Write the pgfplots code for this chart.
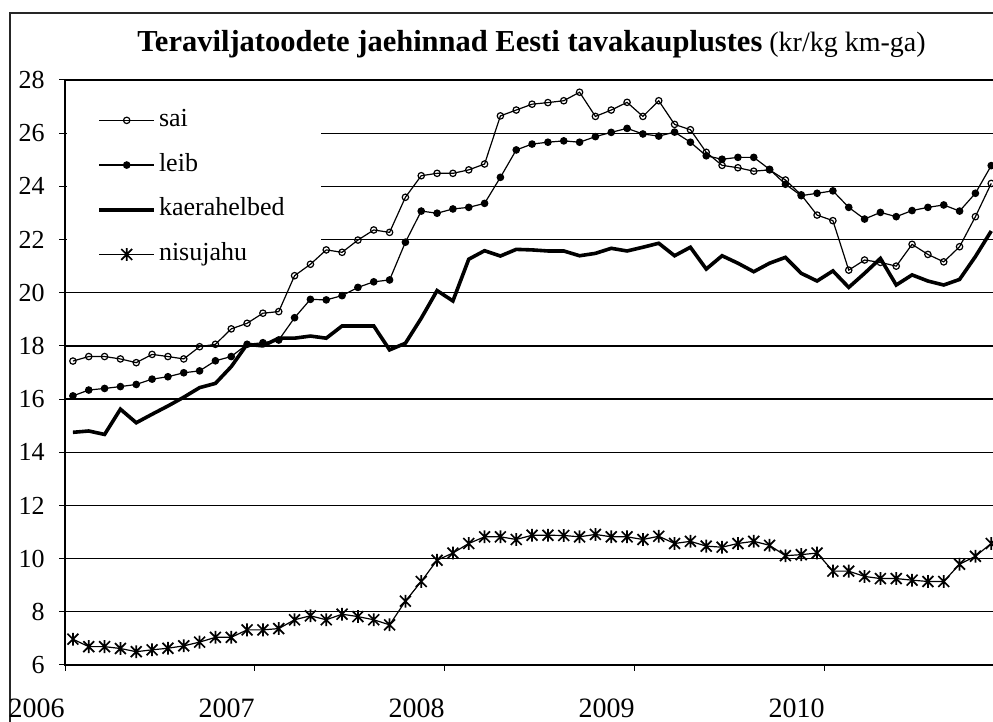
\documentclass[border=0pt]{standalone}
\usepackage{fontspec}
\setmainfont{Liberation Serif}
\usepackage{pgfplots}
\usepackage{pgfplotstable}
\pgfplotsset{compat=1.18}

% Excel-like star: vertical bar and a cross
\pgfdeclareplotmark{estar}{%
  \pgfpathmoveto{\pgfqpoint{0pt}{\pgfplotmarksize}}%
  \pgfpathlineto{\pgfqpoint{0pt}{-\pgfplotmarksize}}%
  \pgfpathmoveto{\pgfqpoint{-.85\pgfplotmarksize}{.85\pgfplotmarksize}}%
  \pgfpathlineto{\pgfqpoint{.85\pgfplotmarksize}{-.85\pgfplotmarksize}}%
  \pgfpathmoveto{\pgfqpoint{-.85\pgfplotmarksize}{-.85\pgfplotmarksize}}%
  \pgfpathlineto{\pgfqpoint{.85\pgfplotmarksize}{.85\pgfplotmarksize}}%
  \pgfusepathqstroke}

% monthly prices, Jan 2006 .. Nov 2010 (m = month index, centred in its category)
\pgfplotstableread{
m sai leib kaer nisu
0.5 17.43 16.12 14.75 6.97
1.5 17.60 16.34 14.80 6.69
2.5 17.60 16.40 14.67 6.69
3.5 17.51 16.47 15.62 6.62
4.5 17.37 16.55 15.11 6.50
5.5 17.68 16.75 15.43 6.57
6.5 17.60 16.84 15.74 6.63
7.5 17.51 16.99 16.07 6.72
8.5 17.97 17.06 16.43 6.86
9.5 18.06 17.44 16.59 7.04
10.5 18.64 17.60 17.22 7.04
11.5 18.85 18.06 18.06 7.32
12.5 19.23 18.12 18.00 7.32
13.5 19.29 18.22 18.29 7.37
14.5 20.64 19.06 18.29 7.70
15.5 21.07 19.75 18.37 7.85
16.5 21.61 19.73 18.29 7.70
17.5 21.52 19.89 18.75 7.91
18.5 21.98 20.20 18.75 7.82
19.5 22.36 20.41 18.75 7.70
20.5 22.27 20.48 17.85 7.51
21.5 23.59 21.90 18.10 8.40
22.5 24.40 23.07 19.04 9.14
23.5 24.49 22.99 20.08 9.94
24.5 24.49 23.15 19.69 10.21
25.5 24.62 23.21 21.26 10.57
26.5 24.84 23.36 21.58 10.82
27.5 26.65 24.34 21.38 10.82
28.5 26.87 25.37 21.63 10.72
29.5 27.09 25.59 21.61 10.88
30.5 27.15 25.66 21.57 10.88
31.5 27.22 25.71 21.57 10.87
32.5 27.54 25.66 21.39 10.82
33.5 26.63 25.87 21.48 10.91
34.5 26.87 26.03 21.67 10.82
35.5 27.16 26.18 21.57 10.82
36.5 26.63 25.97 21.71 10.72
37.5 27.22 25.89 21.86 10.84
38.5 26.33 26.04 21.39 10.57
39.5 26.13 25.66 21.71 10.65
40.5 25.28 25.15 20.89 10.47
41.5 24.79 25.02 21.39 10.43
42.5 24.70 25.09 21.11 10.57
43.5 24.57 25.09 20.79 10.65
44.5 24.62 24.64 21.11 10.50
45.5 24.24 24.08 21.33 10.11
46.5 23.68 23.65 20.73 10.15
47.5 22.92 23.74 20.44 10.21
48.5 22.71 23.83 20.82 9.53
49.5 20.85 23.21 20.20 9.53
50.5 21.23 22.77 20.73 9.33
51.5 21.14 23.02 21.29 9.25
52.5 21.00 22.86 20.29 9.25
53.5 21.82 23.09 20.67 9.19
54.5 21.44 23.21 20.44 9.14
55.5 21.16 23.30 20.29 9.14
56.5 21.73 23.07 20.50 9.79
57.5 22.86 23.74 21.36 10.09
58.5 24.11 24.78 22.32 10.57
}\hinnad

\begin{document}
\begin{tikzpicture}[x=0.5pt,y=0.5pt]
% outer chart frame (cropped on the right and bottom)
\draw[black!85, line width=0.6pt] (10,-10) -- (10,709) -- (1010,709);
\node[anchor=base west, inner sep=0pt] at (137,670)
  {\fontsize{15.25}{18}\selectfont\bfseries Teraviljatoodete jaehinnad Eesti tavakauplustes\mdseries\fontsize{14}{16}\selectfont{} (kr/kg km-ga)};
\begin{axis}[
  at={(32.5pt,28.5pt)}, anchor=south west,
  width=475pt, height=292.5pt, scale only axis,
  xmin=0, xmax=60, ymin=6, ymax=28,
  xtick={0,12,24,36,48}, xticklabels={2006,2007,2008,2009,2010},
  ytick={6,8,...,28},
  tick align=outside, xtick pos=bottom, ytick pos=left,
  major tick length=3pt,
  tick style={black, line width=0.5pt},
  ymajorgrids, grid style={black, line width=0.6pt},
  axis line style={black, line width=0.6pt},
  /pgf/number format/assume math mode=true,
  yticklabel style={font=\fontsize{13}{15}\selectfont, inner sep=0pt, xshift=-7pt},
  xticklabel style={font=\fontsize{14}{16}\selectfont, anchor=north east, inner sep=0pt, yshift=-13.5pt},
  legend cell align=left,
  legend style={at={(0.0337,0.9556)}, anchor=north west, draw=none, fill=none,
    inner sep=0pt, row sep=8.35pt, font=\fontsize{13}{15}\selectfont,
    nodes={inner sep=1.5pt, text height=8.5pt, text depth=2.5pt}},
  legend image code/.code={\draw[mark repeat=2,mark phase=2,#1] plot coordinates {(0pt,0pt) (13.75pt,0pt) (27.5pt,0pt)};},
]
% white legend area hides the grid but not the data
\fill[white] (axis cs:0.15,27.97) rectangle (axis cs:16.17,20.74);
\addplot[black, line width=0.6pt, mark=o, mark size=1.6pt, mark options={fill=white, line width=0.6pt}] table[x=m, y=sai] {\hinnad};
\addlegendentry{sai}
\addplot[black, line width=0.6pt, mark=*, mark size=1.6pt] table[x=m, y=leib] {\hinnad};
\addlegendentry{leib}
\addplot[black, line width=1.8pt] table[x=m, y=kaer] {\hinnad};
\addlegendentry{kaerahelbed}
\addplot[black, line width=0.6pt, mark=estar, mark size=3.2pt, mark options={line width=0.85pt}] table[x=m, y=nisu] {\hinnad};
\addlegendentry{nisujahu}
\end{axis}
\pgfresetboundingbox
\path (0,0) rectangle (993,722);
\end{tikzpicture}
\end{document}
